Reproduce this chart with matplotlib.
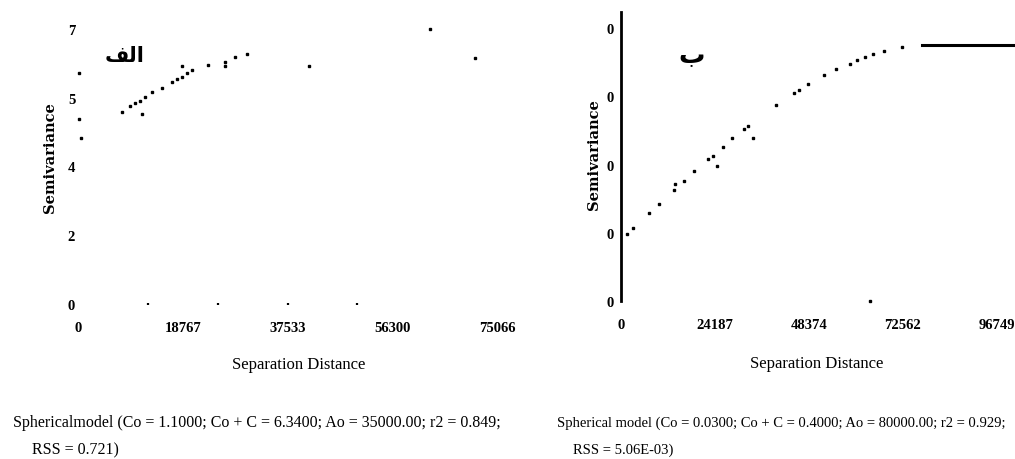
import matplotlib
matplotlib.use("Agg")
import matplotlib.pyplot as plt

# ---------------- data: panel "الف" (left) ----------------
left_x = [7864, 11385, 9294, 10188, 11082, 11975, 13345, 15068, 16855, 17808,
          18707, 19542, 20494, 18648, 23289, 26274, 26393, 28061, 30259,
          41343, 63040, 71136, 180, 180, 480]
left_y = [4.90, 4.83, 5.05, 5.11, 5.17, 5.26, 5.39, 5.51, 5.66, 5.73,
          5.79, 5.88, 5.95, 6.06, 6.08, 6.15, 6.07, 6.28, 6.36,
          6.07, 7.01, 6.25, 5.88, 4.71, 4.22]
left_xticks = [0, 18767, 37533, 56300, 75066]
left_xticklabels = ["0", "18767", "37533", "56300", "75066"]
left_xminor = [12511, 25022, 37533, 50044]
left_yticks = [0, 1.75, 3.5, 5.25, 7]
left_yticklabels = ["0", "2", "4", "5", "7"]
left_caption1 = "Sphericalmodel (Co = 1.1000; Co + C = 6.3400; Ao = 35000.00; r2 = 0.849;"
left_caption2 = "RSS = 0.721)"

# ---------------- data: panel "ب" (right) ----------------
right_x = [1543, 3085, 7199, 9770, 13704, 13961, 16352, 18923, 22523, 23654,
           24682, 26225, 28695, 31701, 32808, 33939, 39928, 44633, 45842,
           48234, 52269, 55354, 58954, 60677, 62812, 64946, 67774, 72246, 64100]
right_y = [0.105, 0.114, 0.137, 0.152, 0.174, 0.183, 0.188, 0.203, 0.222, 0.227,
           0.211, 0.240, 0.254, 0.269, 0.274, 0.254, 0.306, 0.325, 0.330,
           0.339, 0.353, 0.3625, 0.371, 0.377, 0.382, 0.386, 0.391, 0.397, 0.0]
right_sill_x = [77390, 101000]
right_sill_y = [0.40, 0.40]
right_xticks = [0, 24187, 48374, 72562, 96749]
right_xticklabels = ["0", "24187", "48374", "72562", "96749"]
right_yticks = [0, 0.107, 0.213, 0.320, 0.427]
right_yticklabels = ["0", "0", "0", "0", "0"]
right_caption1 = "Spherical model (Co = 0.0300; Co + C = 0.4000; Ao = 80000.00; r2 = 0.929;"
right_caption2 = "RSS = 5.06E-03)"

xlabel_text = "Separation Distance"
ylabel_text = "Semivariance"
left_tag = "\uFED2\uFEDF\uFE8D"   # الف (visual order, presentation forms)
right_tag = "\uFE8F"              # ب

W, H = 1015, 460
SERIF = ["Liberation Serif", "DejaVu Serif"]

fig = plt.figure(figsize=(W / 100, H / 100), dpi=100)
fig.patch.set_facecolor("white")


def px_axes(x0, x1, y_top, y_bot):
    return fig.add_axes([x0 / W, (H - y_bot) / H, (x1 - x0) / W, (y_bot - y_top) / H])


# ---------- left panel ----------
ax1 = px_axes(78, 497, 30, 305)
ax1.set_xlim(0, 75066)
ax1.set_ylim(0, 7)
for s in ax1.spines.values():
    s.set_visible(False)
ax1.plot(left_x, left_y, linestyle="none", marker="s", markersize=1.5,
         color="black", clip_on=False)
ax1.xaxis.remove_overlapping_locs = False
ax1.set_xticks(left_xticks)
ax1.set_xticklabels(left_xticklabels, family=SERIF, fontsize=10.5, fontweight="bold")
ax1.set_xticks(left_xminor, minor=True)
ax1.tick_params(axis="x", which="major", length=0, pad=12)
ax1.tick_params(axis="x", which="minor", length=2, width=1.6, direction="inout")
ax1.set_yticks(left_yticks)
ax1.set_yticklabels(left_yticklabels, family=SERIF, fontsize=10.5, fontweight="bold")
ax1.tick_params(axis="y", length=0, pad=2)
ax1.set_xlabel(xlabel_text, family=SERIF, fontsize=12)
ax1.xaxis.set_label_coords((299 - 78) / 419, (305 - 357) / 275)
ax1.set_ylabel(ylabel_text, family=["DejaVu Serif"], fontsize=10.5, fontweight="bold")
ax1.yaxis.set_label_coords((57 - 78) / 419, (305 - 158) / 275)
ax1.text(125, H - 56, left_tag, transform=None, fontsize=15, fontweight="bold",
         family="DejaVu Sans", ha="center", va="center")

# ---------- right panel ----------
ax2 = px_axes(620.7, 1013.5, 13, 302)
ax2.set_xlim(0, 101000)
ax2.set_ylim(0, 0.4516)
for k in ["top", "right", "bottom"]:
    ax2.spines[k].set_visible(False)
ax2.spines["left"].set_linewidth(2)
ax2.plot(right_x, right_y, linestyle="none", marker="s", markersize=1.5,
         color="black", clip_on=False)
ax2.plot(right_sill_x, right_sill_y, color="black", linewidth=2.2, clip_on=False)
ax2.set_xticks(right_xticks)
ax2.set_xticklabels(right_xticklabels, family=SERIF, fontsize=10.5, fontweight="bold")
ax2.tick_params(axis="x", length=0, pad=12)
ax2.set_yticks(right_yticks)
ax2.set_yticklabels(right_yticklabels, family=SERIF, fontsize=10.5, fontweight="bold")
ax2.tick_params(axis="y", length=0, pad=5)
ax2.set_xlabel(xlabel_text, family=SERIF, fontsize=12)
ax2.xaxis.set_label_coords((817 - 620.7) / 392.8, (302 - 356) / 289)
ax2.set_ylabel(ylabel_text, family=["DejaVu Serif"], fontsize=10.5, fontweight="bold")
ax2.yaxis.set_label_coords((601 - 620.7) / 392.8, (302 - 155) / 289)
ax2.text(692, H - 56, right_tag, transform=None, fontsize=19, fontweight="bold",
         family="DejaVu Sans", ha="center", va="center")

# ---------- captions ----------
fig.text(13 / W, 1 - 423 / H, left_caption1, family=SERIF, fontsize=11.5, va="center")
fig.text(32 / W, 1 - 450 / H, left_caption2, family=SERIF, fontsize=11.5, va="center")
fig.text(557 / W, 1 - 423 / H, right_caption1, family=SERIF, fontsize=10.5, va="center")
fig.text(573 / W, 1 - 450 / H, right_caption2, family=SERIF, fontsize=10.5, va="center")

fig.savefig("out.png", dpi=100, facecolor="white")
